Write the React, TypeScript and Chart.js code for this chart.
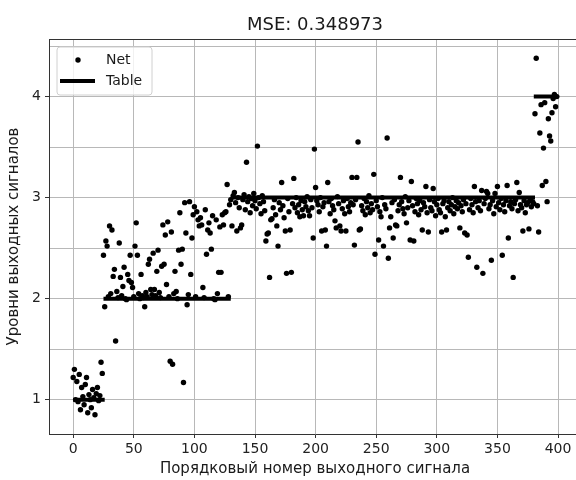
import React, { useEffect, useRef } from "react";
import { Chart, registerables } from "chart.js";

Chart.register(...registerables);

const titleText = "MSE: 0.348973";
const xLabel = "Порядковый номер выходного сигнала";
const yLabel = "Уровни выходных сигналов";
const legendNet = "Net";
const legendTable = "Table";

const xTicks = [0, 50, 100, 150, 200, 250, 300, 350, 400];
const yTicks = [1, 2, 3, 4];
const yGrid = [1, 1.5, 2, 2.5, 3, 3.5, 4, 4.5];

// Net output, signals 0..24 (table level 1)
const netLevel1 = [
  1.22, 1.30, 1.00, 1.18, 0.98, 1.25, 0.90, 1.12, 1.03, 0.95,
  1.15, 1.22, 0.87, 1.05, 1.00, 0.92, 1.10, 1.02, 0.85, 1.06,
  1.12, 0.99, 1.04, 1.37, 1.26,
];
// signals 25..129 (table level 2)
const netLevel2 = [
  2.43, 1.92, 2.57, 2.52, 2.02, 2.72, 2.05, 2.68, 2.22, 2.29,
  1.58, 2.07, 2.01, 2.55, 2.21, 2.03, 2.12, 2.31, 2.00, 1.99,
  2.24, 2.18, 2.43, 2.16, 2.11, 2.02, 2.52, 2.75, 2.43, 2.05,
  2.00, 2.24, 2.03, 2.01, 1.92, 2.06, 2.02, 2.34, 2.39, 2.09,
  2.04, 2.45, 2.09, 2.03, 2.27, 2.48, 2.06, 2.01, 2.32, 2.73,
  2.34, 2.63, 2.14, 2.76, 2.02, 1.38, 2.66, 1.35, 2.05, 2.27,
  2.07, 2.00, 2.48, 2.85, 2.34, 2.49, 1.17, 2.95, 2.65, 1.94,
  2.04, 2.96, 2.24, 2.60, 2.83, 2.91, 2.02, 2.86, 2.78, 2.72,
  2.80, 2.73, 2.11, 2.01, 2.88, 2.44, 2.68, 2.75, 2.65, 2.49,
  2.82, 2.00, 1.99, 2.78, 2.05, 2.26, 2.71, 2.26, 2.83, 2.73,
  2.85, 2.86, 3.13, 2.02, 2.93,
];
// signals 130..379 (table level 3)
const netLevel3 = [
  2.98, 2.72, 3.02, 3.05, 2.95, 2.67, 3.00, 2.90, 2.70, 2.73,
  2.98, 3.03, 2.88, 3.35, 2.96, 3.01, 2.85, 2.99, 2.92, 3.04,
  2.97, 2.89, 3.51, 3.00, 2.94, 2.84, 3.02, 2.96, 2.87, 2.57,
  2.64, 2.65, 2.21, 2.78, 2.79, 2.90, 2.98, 2.83, 2.72, 2.52,
  2.95, 2.88, 3.15, 2.92, 2.80, 2.67, 2.25, 2.99, 2.86, 2.68,
  2.26, 2.94, 3.19, 2.90, 3.00, 2.85, 2.93, 2.81, 2.97, 2.88,
  2.82, 2.96, 2.91, 3.01, 2.87, 2.82, 2.98, 2.90, 2.60, 3.48,
  3.10, 2.97, 2.93, 2.86, 3.00, 2.67, 2.91, 2.95, 2.68, 2.52,
  3.15, 2.96, 2.84, 2.99, 2.92, 2.88, 2.77, 2.70, 3.01, 2.94,
  2.72, 2.67, 2.89, 2.97, 2.84, 2.67, 2.99, 2.91, 2.86, 2.95,
  3.20, 2.93, 2.53, 2.98, 3.20, 3.55, 2.68, 2.69, 2.92, 2.87,
  2.99, 2.83, 2.96, 2.90, 3.02, 2.85, 2.94, 2.88, 3.23, 2.44,
  2.97, 2.91, 2.58, 2.86, 2.81, 3.00, 2.52, 2.93, 2.89, 3.59,
  2.40, 2.70, 2.81, 2.95, 2.60, 2.98, 2.73, 2.72, 2.87, 2.93,
  3.20, 2.96, 2.89, 2.84, 3.01, 2.75, 2.90, 2.97, 2.58, 3.16,
  2.92, 2.57, 2.86, 2.99, 2.94, 2.83, 2.97, 2.88, 2.68, 2.95,
  2.91, 3.11, 2.85, 2.66, 2.98, 2.90, 2.87, 3.09, 2.96, 2.82,
  2.93, 2.99, 2.88, 2.85, 2.66, 2.94, 2.97, 2.81, 2.68, 2.90,
  2.96, 2.87, 2.93, 3.00, 2.84, 2.91, 2.97, 2.89, 2.95, 2.70,
  2.92, 2.86, 2.98, 2.65, 2.94, 2.63, 2.41, 2.88, 2.99, 2.93,
  2.85, 3.11, 2.96, 2.31, 2.90, 2.97, 2.87, 3.07, 2.25, 2.94,
  2.99, 3.06, 3.04, 2.89, 2.93, 2.38, 2.97, 2.84, 3.04, 2.91,
  3.11, 2.95, 2.88, 2.99, 2.43, 2.93, 2.86, 2.97, 3.12, 2.60,
  2.92, 2.96, 2.89, 2.21, 2.94, 2.98, 3.15, 2.87, 3.05, 2.93,
  2.90, 2.67, 2.97, 2.85, 2.93, 2.95, 2.69, 2.98, 2.91, 2.96,
];
// signals 380..399 (table level 4)
const netLevel4 = [
  2.94, 3.83, 4.38, 2.92, 2.66, 3.64, 3.92, 3.12, 3.49, 3.94,
  3.16, 2.96, 3.78, 3.61, 3.56, 3.84, 3.98, 4.02, 3.90, 4.00,
];

// Reference table: level and the signal range it covers
const tableLevels = [1, 2, 3, 4];
const tableStarts = [0, 25, 130, 380];
const tableEnds = [26, 130, 381, 400];

const FONT = '"DejaVu Sans", sans-serif';

export default function App() {
  const canvasRef = useRef<HTMLCanvasElement | null>(null);

  useEffect(() => {
    document.body.style.margin = "0";
    const canvas = canvasRef.current;
    if (!canvas) return;

    const netValues = [...netLevel1, ...netLevel2, ...netLevel3, ...netLevel4];
    const netPoints = netValues.map((y, i) => ({ x: i, y }));

    const tablePoints: { x: number; y: number | null }[] = [];
    tableLevels.forEach((lvl, k) => {
      tablePoints.push({ x: tableStarts[k], y: lvl });
      tablePoints.push({ x: tableEnds[k], y: lvl });
      tablePoints.push({ x: tableEnds[k], y: null });
    });

    const textPlugin = {
      id: "texts",
      afterDraw(chart: any) {
        const ctx = chart.ctx as CanvasRenderingContext2D;
        const a = chart.chartArea;
        ctx.save();
        // top spine
        ctx.strokeStyle = "#333";
        ctx.lineWidth = 1;
        ctx.beginPath();
        ctx.moveTo(a.left, a.top + 0.5);
        ctx.lineTo(a.right, a.top + 0.5);
        ctx.stroke();

        ctx.fillStyle = "#1a1a1a";
        ctx.textAlign = "center";
        ctx.textBaseline = "middle";
        ctx.font = `18px ${FONT}`;
        ctx.fillText(titleText, (a.left + a.right) / 2, 25);
        ctx.font = `15px ${FONT}`;
        ctx.fillText(xLabel, (a.left + a.right) / 2, 469);
        ctx.save();
        ctx.translate(14, (a.top + a.bottom) / 2);
        ctx.rotate(-Math.PI / 2);
        ctx.fillText(yLabel, 0, 0);
        ctx.restore();

        // legend
        const lx = 57, ly = 47, lw = 95, lh = 48, r = 3;
        ctx.beginPath();
        ctx.moveTo(lx + r, ly);
        ctx.lineTo(lx + lw - r, ly);
        ctx.quadraticCurveTo(lx + lw, ly, lx + lw, ly + r);
        ctx.lineTo(lx + lw, ly + lh - r);
        ctx.quadraticCurveTo(lx + lw, ly + lh, lx + lw - r, ly + lh);
        ctx.lineTo(lx + r, ly + lh);
        ctx.quadraticCurveTo(lx, ly + lh, lx, ly + lh - r);
        ctx.lineTo(lx, ly + r);
        ctx.quadraticCurveTo(lx, ly, lx + r, ly);
        ctx.closePath();
        ctx.fillStyle = "rgba(255,255,255,0.8)";
        ctx.fill();
        ctx.strokeStyle = "#d0d0d0";
        ctx.lineWidth = 1;
        ctx.stroke();

        ctx.fillStyle = "#000";
        ctx.beginPath();
        ctx.arc(78, 60, 2.7, 0, Math.PI * 2);
        ctx.fill();
        ctx.strokeStyle = "#000";
        ctx.lineWidth = 4;
        ctx.beginPath();
        ctx.moveTo(60, 81);
        ctx.lineTo(95, 81);
        ctx.stroke();

        ctx.fillStyle = "#1a1a1a";
        ctx.textAlign = "left";
        ctx.font = `14px ${FONT}`;
        ctx.fillText(legendNet, 106, 60);
        ctx.fillText(legendTable, 106, 81);
        ctx.restore();
      },
    };

    const chart = new Chart(canvas, {
      type: "scatter",
      data: {
        datasets: [
          {
            label: legendNet,
            data: netPoints,
            pointRadius: 2.7,
            pointBackgroundColor: "#000",
            pointBorderWidth: 0,
            showLine: false,
            order: 1,
          },
          {
            label: legendTable,
            type: "line",
            data: tablePoints as any,
            borderColor: "#000",
            borderWidth: 4,
            pointRadius: 0,
            spanGaps: false,
            showLine: true,
            fill: false,
            order: 0,
          } as any,
        ],
      },
      plugins: [textPlugin],
      options: {
        responsive: false,
        animation: false,
        events: [],
        layout: { padding: { top: 39, right: 19, left: 0, bottom: 0 } },
        plugins: {
          legend: { display: false },
          tooltip: { enabled: false },
          title: { display: false },
        },
        scales: {
          x: {
            type: "linear",
            min: -19.95,
            max: 418.95,
            afterBuildTicks: (s: any) => {
              s.ticks = xTicks.map((v) => ({ value: v }));
            },
            afterFit: (s: any) => {
              s.height = 46;
            },
            grid: {
              color: "#b8b8b8",
              lineWidth: 1,
              tickLength: 4,
              tickColor: "#333",
            },
            border: { color: "#333", width: 1 },
            ticks: {
              color: "#222",
              font: { family: FONT, size: 14 },
              padding: 3,
              maxRotation: 0,
              callback: (v: any) => String(v),
            },
          },
          y: {
            type: "linear",
            min: 0.66,
            max: 4.57,
            afterBuildTicks: (s: any) => {
              s.ticks = yGrid.map((v) => ({ value: v }));
            },
            afterFit: (s: any) => {
              s.width = 49;
            },
            grid: {
              color: "#b8b8b8",
              lineWidth: 1,
              tickLength: 4,
              tickColor: (c: any) =>
                c.tick && yTicks.includes(c.tick.value) ? "#333" : "rgba(0,0,0,0)",
            },
            border: { color: "#333", width: 1 },
            ticks: {
              color: "#222",
              font: { family: FONT, size: 14 },
              padding: 4,
              callback: (v: any) => (yTicks.includes(Number(v)) ? String(v) : ""),
            },
          },
        },
      },
    });

    return () => {
      chart.destroy();
    };
  }, []);

  return (
    <div style={{ width: 576, height: 480, overflow: "hidden", position: "relative" }}>
      <canvas ref={canvasRef} width={600} height={480} style={{ display: "block" }} />
    </div>
  );
}
